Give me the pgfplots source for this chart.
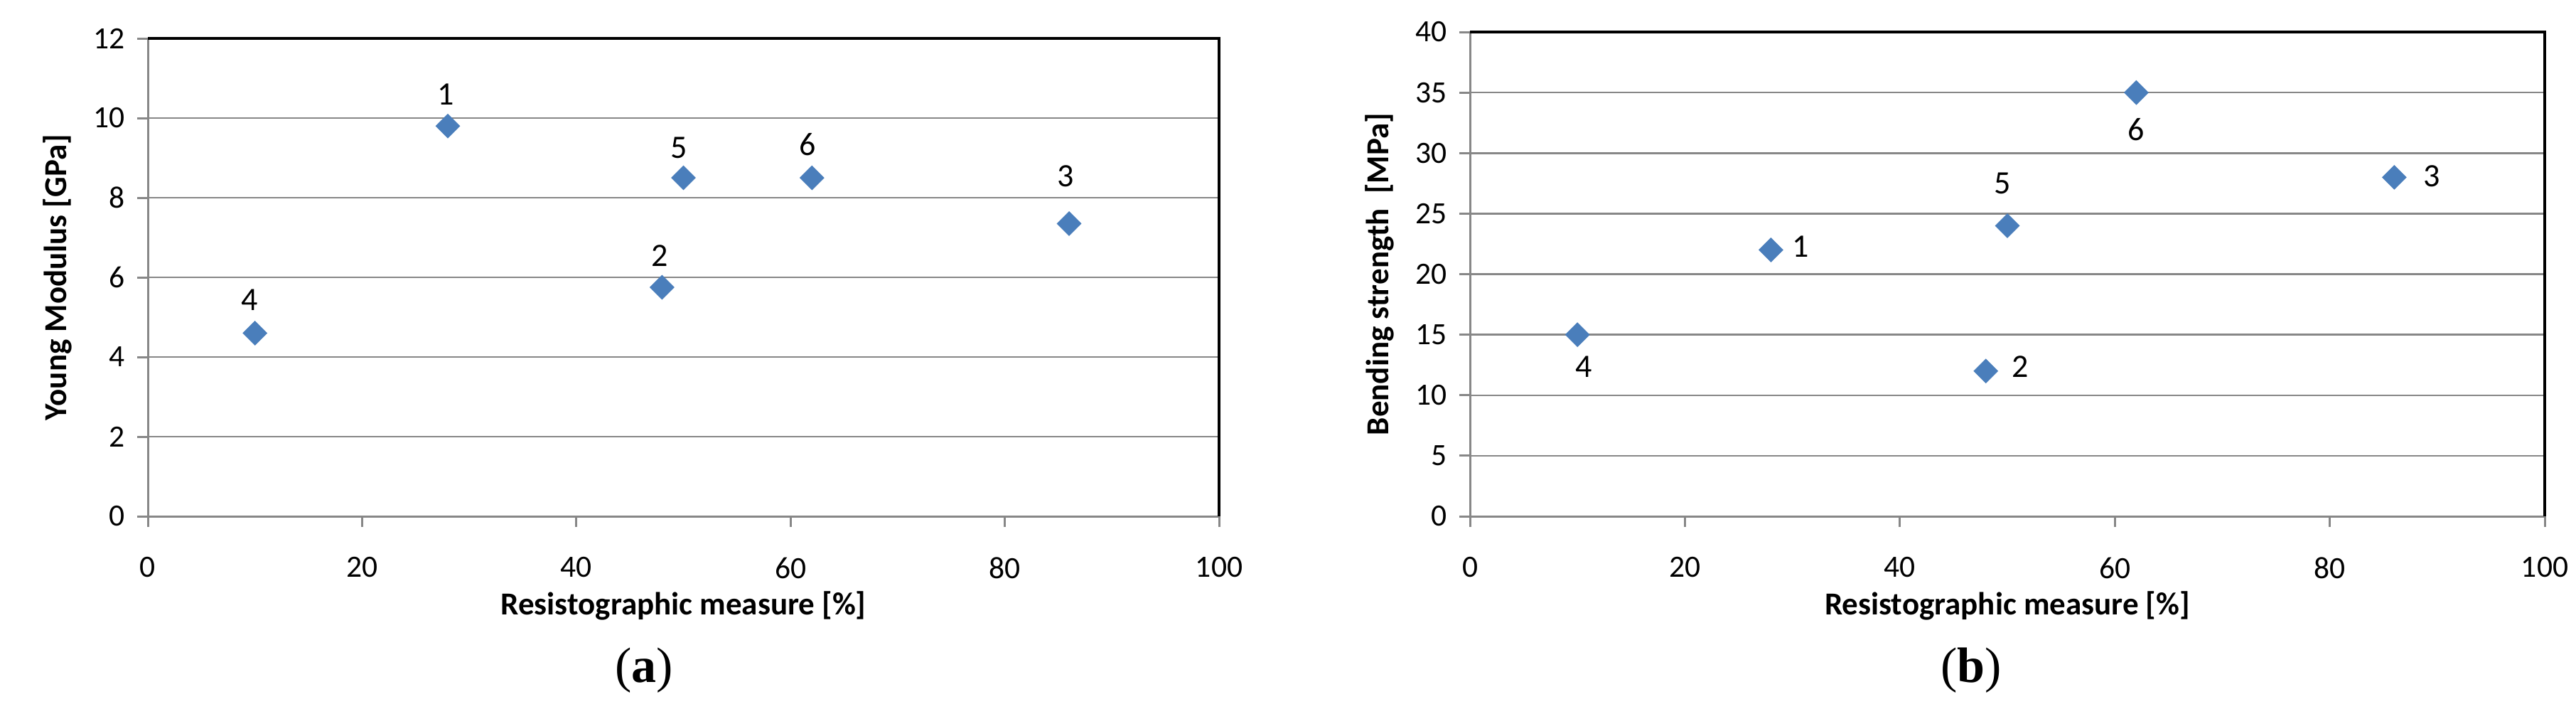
\documentclass[border=0pt]{standalone}
\usepackage{pgfplots}
\pgfplotsset{compat=1.18}
\usepackage{pgfplotstable}
\usepackage{fontspec}
\setmainfont{Carlito}
\newfontfamily\capfont{Liberation Serif}
\definecolor{ptblue}{HTML}{4A7EBB}
\definecolor{gridgray}{HTML}{878787}

% x = resistographic measure [%], y = property, lbl = specimen, dx/dy = label offset (pt)
\pgfplotstableread{
x  y    lbl dx   dy
10 4.6  4   -1.5 9.4
28 9.8  1   -0.6 9.0
48 5.75 2   -0.6 8.8
50 8.5  5   -1.2 8.4
62 8.5  6   -1.2 9.4
86 7.35 3   -0.9 13.4
}\youngdata

\pgfplotstableread{
x  y  lbl dx   dy
10 15 4   1.8  -9.0
28 22 1   8.3  0.9
48 12 2   9.7  1.3
50 24 5   -1.4 12.0
62 35 6   0.0  -10.4
86 28 3   10.6 0.4
}\benddata

\pgfplotsset{
  panel/.style={
    scale only axis,
    anchor=south west,
    xmin=0,xmax=100,ymin=0,
    xtick={0,20,...,100},
    xtick pos=bottom,ytick pos=left,
    tick align=outside,
    major tick length=3pt,
    tick style={draw=gridgray,line width=0.6pt},
    axis line style={draw=gridgray,line width=0.6pt},
    ymajorgrids,
    grid style={draw=gridgray,line width=0.5pt},
    /pgf/number format/assume math mode=true,
    tick label style={font=\fontsize{8.7}{10}\selectfont},
    xticklabel style={yshift=-5pt},
    label style={font=\fontsize{9}{11}\selectfont\bfseries},
    xlabel style={at={(axis description cs:0.5,0)},anchor=center,yshift=-25.2pt},
    ylabel style={at={(axis description cs:0,0.5)},anchor=center,yshift=25.4pt},
    clip=false,
  },
  pts/.style={
    only marks,
    mark=square*,
    mark size=2.26pt,
    mark options={rotate=45,draw=ptblue,fill=ptblue},
    point meta=explicit symbolic,
    nodes near coords,
    visualization depends on={\thisrow{dx}\as\dx},
    visualization depends on={\thisrow{dy}\as\dy},
    every node near coord/.style={anchor=center,xshift=\dx pt,yshift=\dy pt,
      font=\fontsize{9.2}{11}\selectfont,inner sep=0pt},
  },
}

\begin{document}
\begin{tikzpicture}
\useasboundingbox (0,0) rectangle (724.8pt,199.2pt);

\begin{axis}[panel,
  at={(41.6pt,54pt)},width=301.4pt,height=134.4pt,
  ymax=12,ytick={0,2,...,12},
  xlabel={Resistographic measure [\%]},
  ylabel={Young Modulus [GPa]}]
\addplot[pts] table[x=x,y=y,meta=lbl] {\youngdata};
\draw[black,line width=0.9pt] (rel axis cs:0,1) -- (rel axis cs:1,1) -- (rel axis cs:1,0);
\end{axis}

\begin{axis}[panel,
  at={(413.6pt,54pt)},width=302.4pt,height=136.2pt,
  ymax=40,ytick={0,5,...,40},
  xlabel={Resistographic measure [\%]},
  ylabel={Bending strength\ \ [MPa]}]
\addplot[pts] table[x=x,y=y,meta=lbl] {\benddata};
\draw[black,line width=0.9pt] (rel axis cs:0,1) -- (rel axis cs:1,1) -- (rel axis cs:1,0);
\end{axis}

\node[font=\capfont\fontsize{14}{16}\selectfont] at (181.2pt,10.6pt) {(\textbf{a})};
\node[font=\capfont\fontsize{14}{16}\selectfont] at (554.6pt,10.6pt) {(\textbf{b})};
\end{tikzpicture}
\end{document}
